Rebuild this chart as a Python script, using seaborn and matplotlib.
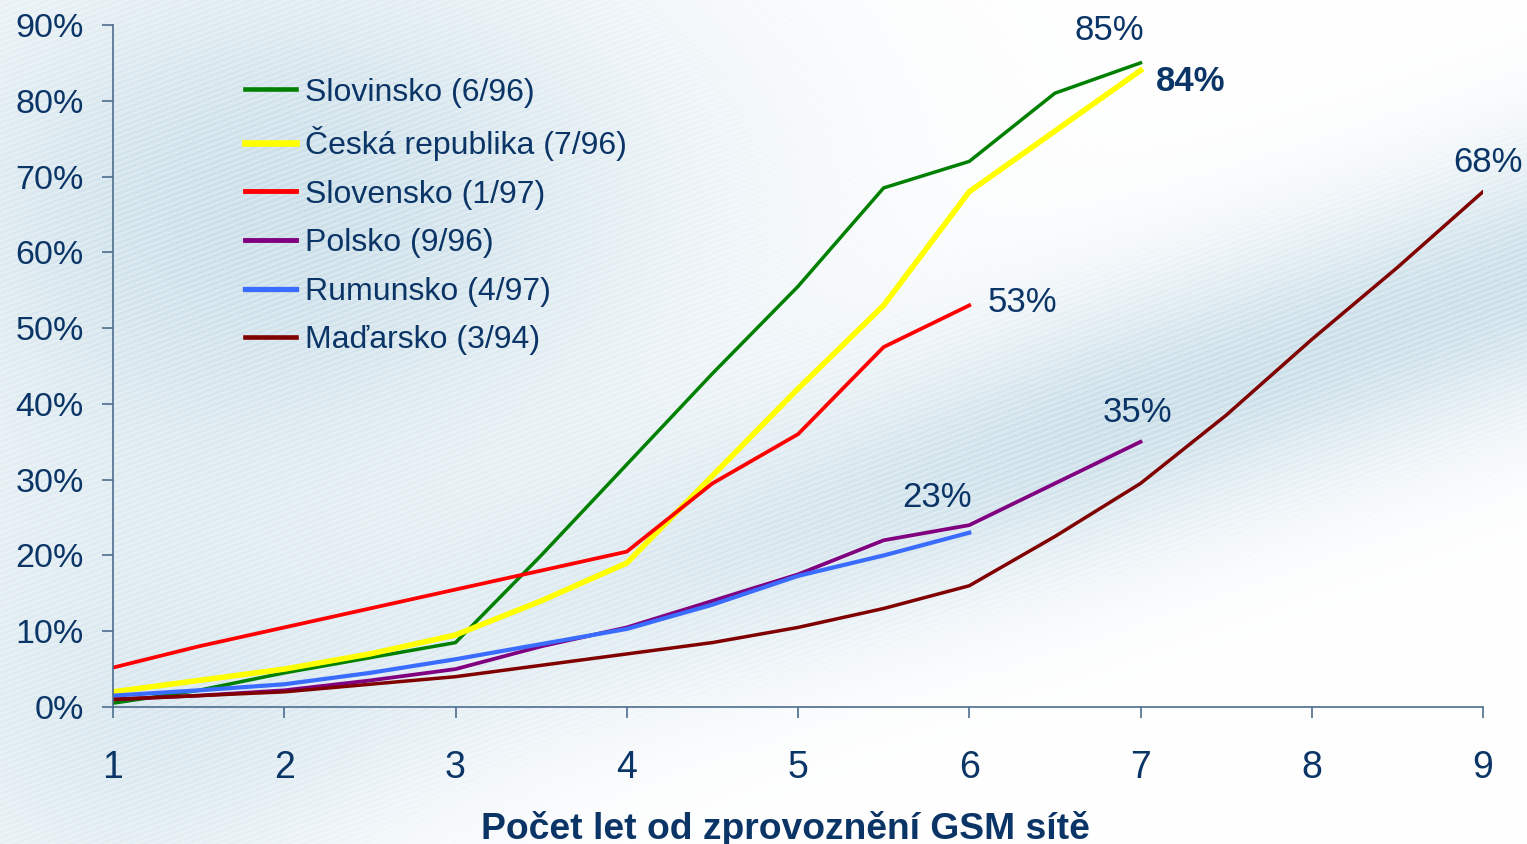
import numpy as np
import pandas as pd
import matplotlib
matplotlib.use("Agg")
import matplotlib.pyplot as plt
import matplotlib.ticker as mticker
from matplotlib.lines import Line2D
import seaborn as sns

# roky od spusteni site (po pul roce)
roky = [1, 1.5, 2, 2.5, 3, 3.5, 4, 4.5, 5, 5.5, 6, 6.5, 7, 7.5, 8, 8.5, 9]

slovinsko = [0.5, 2.2, 4.5, 6.5, 8.5, 20.0, 32.0, 44.0, 55.5, 68.5, 72.0, 81.0, 85.0]
cesko = [2.0, 3.5, 5.0, 7.0, 9.5, 14.0, 19.0, 30.5, 42.0, 53.0, 68.0, 76.0, 84.0]
slovensko = [5.2, 8.0, 10.5, 13.0, 15.5, 18.0, 20.5, 29.5, 36.0, 47.5, 53.0]
polsko = [1.0, 1.5, 2.2, 3.5, 5.0, 8.0, 10.5, 14.0, 17.5, 22.0, 24.0, 29.5, 35.0]
rumunsko = [1.5, 2.2, 3.0, 4.5, 6.3, 8.3, 10.3, 13.5, 17.3, 20.0, 23.0]
madarsko = [1.0, 1.5, 2.0, 3.0, 4.0, 5.5, 7.0, 8.5, 10.5, 13.0, 16.0, 22.5,
            29.5, 38.5, 48.5, 58.0, 68.0]

nazvy = ["Slovinsko (6/96)", "Česká republika (7/96)", "Slovensko (1/97)",
         "Polsko (9/96)", "Rumunsko (4/97)", "Maďarsko (3/94)"]
hodnoty = [slovinsko, cesko, slovensko, polsko, rumunsko, madarsko]
barvy = ["#008000", "#ffff00", "#ff0000", "#800080", "#3a6cff", "#800000"]
tloustky = [2.5, 4.0, 2.7, 2.7, 3.0, 2.5]

rows = []
for n, v in zip(nazvy, hodnoty):
    for r, h in zip(roky, v):
        rows.append({"rok": r, "podil": h, "zeme": n})
df = pd.DataFrame(rows)

plt.rcParams["font.family"] = ["Liberation Sans", "DejaVu Sans"]
navy = "#0b3566"
osa = "#4d6d8e"

fig = plt.figure(figsize=(15.27, 8.44), dpi=100)

# pozadi - svetle modre pruhy
bg = fig.add_axes([0, 0, 1, 1], zorder=-1)
H, W = 844, 1527
yy, xx = np.mgrid[0:H, 0:W]
u = xx / W
v = yy / H
d1 = np.exp(-(((u - 0.18) / 0.28) ** 2 + ((v - 0.25) / 0.35) ** 2))
s = (v - 0.95) + 0.62 * u
d2 = np.exp(-((s / 0.16) ** 2)) * np.clip(u * 1.4, 0, 1)
d3 = np.exp(-(((u - 0.05) / 0.2) ** 2 + ((v - 0.85) / 0.3) ** 2)) * 0.6
k = np.clip(d1 + d2 + d3, 0, 1) * 0.8
stripes = 0.5 + 0.5 * np.sin(2 * np.pi * (yy + 0.38 * xx) / 5.5)
k = k * (0.7 + 0.3 * stripes)
base = np.array([1.0, 1.0, 1.0])
blue = np.array([0.74, 0.84, 0.89])
img = base[None, None, :] * (1 - k[..., None]) + blue[None, None, :] * k[..., None]
bg.imshow(img, aspect="auto", interpolation="nearest")
bg.axis("off")

ax = fig.add_axes([113 / 1527, 1 - 707 / 844, 1370 / 1527, 682 / 844])
ax.patch.set_alpha(0)

sns.lineplot(data=df, x="rok", y="podil", hue="zeme", hue_order=nazvy,
             palette=dict(zip(nazvy, barvy)), ax=ax, legend=False,
             estimator=None, sort=False)
for line, lw in zip(ax.get_lines(), tloustky):
    line.set_linewidth(lw)
    line.set_solid_joinstyle("miter")

ax.set_xlim(1, 9)
ax.set_ylim(0, 90)
ax.set_xticks(range(1, 10))
ax.set_yticks(range(0, 91, 10))
ax.yaxis.set_major_formatter(mticker.PercentFormatter(decimals=0))
for sp in ["top", "right"]:
    ax.spines[sp].set_visible(False)
for sp in ["left", "bottom"]:
    ax.spines[sp].set_color(osa)
    ax.spines[sp].set_linewidth(1.2)
ax.tick_params(axis="x", colors=osa, length=8, width=1.2, pad=23,
               labelsize=27, labelcolor=navy)
ax.tick_params(axis="y", colors=osa, length=8, width=1.2, pad=13,
               labelsize=24.5, labelcolor=navy)
ax.set_xlabel("Počet let od zprovoznění GSM sítě", fontsize=26.8,
              fontweight="bold", color=navy)
ax.xaxis.set_label_coords(0.491, -0.152)
ax.set_ylabel("")

# legenda
handles = [Line2D([], [], color=c, lw=lw + 0.8) for c, lw in zip(barvy, tloustky)]
leg = ax.legend(handles, nazvy, loc="upper left", bbox_to_anchor=(0.075, 0.965),
                frameon=False, fontsize=23, handlelength=1.6, handletextpad=0.28,
                labelspacing=0.58)
for t in leg.get_texts():
    t.set_color(navy)

# popisky koncovych hodnot
popisky = [(0, 6.82, 89.3, "normal"), (1, 7.29, 82.5, "bold"), (2, 6.31, 53.4, "normal"),
           (3, 6.98, 38.9, "normal"), (4, 5.81, 27.7, "normal"), (5, 9.03, 71.8, "normal")]
for i, x, y, w in popisky:
    ax.text(x, y, f"{hodnoty[i][-1]:.0f}%", ha="center", va="center",
            fontsize=25, color=navy, fontweight=w, clip_on=False)

fig.savefig("out.png", dpi=100)
